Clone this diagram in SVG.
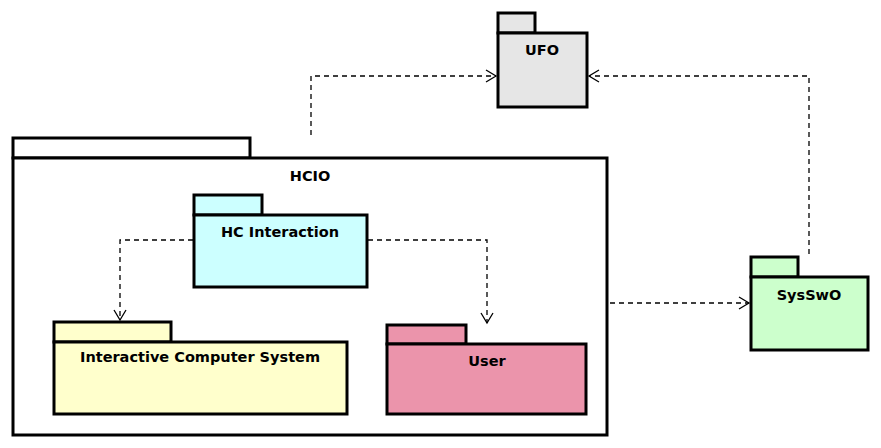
<svg xmlns="http://www.w3.org/2000/svg" width="881" height="448" viewBox="0 0 881 448">
<style>
.pk{stroke:#000;stroke-width:3}
.lbl{font-family:"DejaVu Sans","Liberation Sans",sans-serif;font-weight:bold;font-size:14.5px;fill:#000;text-anchor:middle}
.dep{fill:none;stroke:#000;stroke-width:1.3;stroke-dasharray:5 4}
.ah{fill:none;stroke:#000;stroke-width:1.3}
</style>
<rect width="881" height="448" fill="#fff"/>
<g id="HCIO">
<rect class="pk" x="13" y="138" width="237" height="20" fill="#fff"/>
<rect class="pk" x="13" y="158" width="594" height="277" fill="#fff"/>
<text class="lbl" x="310" y="181">HCIO</text>
</g>
<g id="UFO">
<rect class="pk" x="498" y="13" width="37" height="20" fill="#e6e6e6"/>
<rect class="pk" x="498" y="33" width="89" height="74" fill="#e6e6e6"/>
<text class="lbl" x="542" y="55">UFO</text>
</g>
<g id="HCInteraction">
<rect class="pk" x="194" y="195" width="68" height="20" fill="#ccffff"/>
<rect class="pk" x="194" y="215" width="173" height="72" fill="#ccffff"/>
<text class="lbl" x="280" y="237">HC Interaction</text>
</g>
<g id="ICS">
<rect class="pk" x="54" y="322" width="117" height="20" fill="#ffffcc"/>
<rect class="pk" x="54" y="342" width="293" height="72" fill="#ffffcc"/>
<text class="lbl" x="200" y="362">Interactive Computer System</text>
</g>
<g id="User">
<rect class="pk" x="387" y="325" width="79" height="19" fill="#eb94ab"/>
<rect class="pk" x="387" y="344" width="199" height="70" fill="#eb94ab"/>
<text class="lbl" x="487" y="366">User</text>
</g>
<g id="SysSwO">
<rect class="pk" x="751" y="257" width="47" height="20" fill="#ccffcc"/>
<rect class="pk" x="751" y="277" width="117" height="73" fill="#ccffcc"/>
<text class="lbl" x="809" y="300">SysSwO</text>
</g>
<g id="connectors">
<path class="dep" d="M311,135 V76 H496"/>
<path class="ah" d="M486,70 L496,76 L486,82"/>
<path class="dep" d="M809,254 V76 H589"/>
<path class="ah" d="M599,70 L589,76 L599,82"/>
<path class="dep" d="M610,303 H749"/>
<path class="ah" d="M739,297 L749,303 L739,309"/>
<path class="dep" d="M193,240 H120 V320"/>
<path class="ah" d="M114,310 L120,320 L126,310"/>
<path class="dep" d="M368,240 H487 V323"/>
<path class="ah" d="M481,313 L487,323 L493,313"/>
</g>
</svg>
